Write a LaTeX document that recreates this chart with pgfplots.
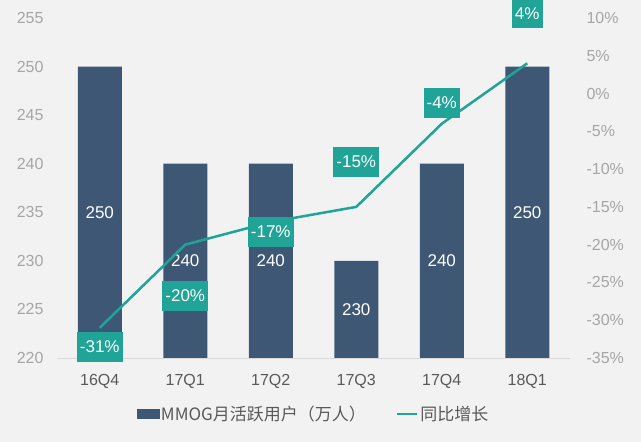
\documentclass[border=0pt]{standalone}
\usepackage{pgfplots}
\pgfplotsset{compat=1.18}
\usepackage{pgfplotstable}
\usepackage{fontspec}
\setmainfont{Liberation Sans}
\newfontfamily\cjk{Noto Sans CJK SC}
\definecolor{barc}{RGB}{61,87,116}
\definecolor{tealc}{RGB}{31,164,151}
\definecolor{bgc}{RGB}{242,242,242}
\definecolor{tickc}{RGB}{166,166,166}
\definecolor{labc}{RGB}{89,89,89}
\definecolor{axisc}{RGB}{217,217,217}

\pgfplotstableread{
x users
0 250
1 240
2 240
3 230
4 240
5 250
}\users
\pgfplotstableread{
x yoy dy
0 -31 -19
1 -20 -51
2 -17 -10
3 -15 45
4 -4 21
5 4 50
}\yoy

\begin{document}
\begin{tikzpicture}
\fill[bgc] (0,0) rectangle (641pt,442pt);
\path[use as bounding box] (0,0) rectangle (641pt,442pt);
\pgfplotsset{common/.style={at={(57pt,84pt)}, anchor=south west, scale only axis, width=513pt, height=340pt, xmin=-0.5, xmax=5.5, /pgf/number format/assume math mode=true, major tick length=0pt, tick label style={font=\fontsize{16}{18}\selectfont}}}
\begin{axis}[common, ybar, bar width=44pt, ymin=220, ymax=255, ytick={220,225,...,255},
  xtick=data, xticklabels={16Q4,17Q1,17Q2,17Q3,17Q4,18Q1},
  axis x line*=bottom, axis y line*=left,
  x axis line style={draw=axisc, line width=0.8pt}, y axis line style={draw=none},
  yticklabel style={text=tickc, xshift=-10pt},
  xticklabel style={text=labc, yshift=-13pt},
  nodes near coords, point meta=y,
  visualization depends on={\thisrow{users} \as \val},
  every node near coord/.append style={anchor=center, text=white, font=\fontsize{17}{19}\selectfont, yshift={-(\val-220)*4.857}}]
\addplot[fill=barc, draw=none] table[x=x,y=users]{\users};
\end{axis}
\begin{axis}[common, ymin=-35, ymax=10, ytick={-35,-30,...,10},
  axis y line*=right, axis x line=none, y axis line style={draw=none},
  yticklabel={\pgfmathprintnumber{\tick}\%},
  yticklabel style={text=tickc, xshift=13pt},
  clip=false,
  legend style={at={(0.5,-0.165)}, anchor=center, draw=none, fill=none, font=\cjk\fontsize{17}{19}\selectfont, nodes={text=labc}, legend columns=2, /tikz/every even column/.append style={column sep=28pt}},
  legend cell align=left]
\addlegendimage{legend image code/.code={\fill[barc] (0pt,-4.5pt) rectangle (22pt,4.5pt);}}
\addlegendentry{MMOG月活跃用户（万人）}
\addplot[tealc, line width=2.5pt, mark=none,
  legend image code/.code={\draw[tealc,line width=2.5pt] (0pt,0pt)--(20pt,0pt);},
  point meta=y,
  nodes near coords={\pgfmathprintnumber{\pgfplotspointmeta}\%},
  visualization depends on={\thisrow{dy} \as \dy},
  every node near coord/.append style={anchor=center, fill=tealc, text=white, font=\fontsize{17}{19}\selectfont, minimum height=30pt, inner xsep=3pt, yshift=\dy}]
  table[x=x,y=yoy]{\yoy};
\addlegendentry{同比增长}
\end{axis}
\end{tikzpicture}
\end{document}
